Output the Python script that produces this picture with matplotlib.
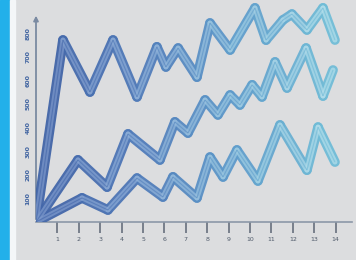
import numpy as np
import matplotlib
matplotlib.use("Agg")
import matplotlib.pyplot as plt
from matplotlib.collections import LineCollection
from matplotlib.colors import LinearSegmentedColormap
from matplotlib.patches import Rectangle

# ---- data ----
top_x = [0, 1.26, 2.52, 3.6, 4.72, 5.65, 6.07, 6.64, 7.52, 8.13, 9.07, 10.23, 10.75, 11.54, 11.96, 12.66, 13.41, 13.97]
top_y = [0, 771, 551, 771, 530, 742, 657, 737, 614, 843, 729, 907, 771, 856, 881, 814, 907, 771]

mid_x = [0, 1.96, 3.32, 4.3, 5.79, 6.49, 7.1, 7.9, 8.5, 9.07, 9.53, 10.1, 10.56, 11.17, 11.73, 12.62, 13.41, 13.88]
mid_y = [0, 263, 148, 373, 263, 424, 377, 517, 454, 538, 496, 581, 530, 678, 568, 737, 534, 644]

bot_x = [0, 2.15, 3.36, 4.72, 5.93, 6.4, 7.52, 8.13, 8.74, 9.39, 10.37, 11.4, 12.66, 13.18, 13.97]
bot_y = [0, 102, 51, 186, 106, 191, 102, 275, 191, 305, 174, 411, 220, 402, 254]

x_ticks = list(range(1, 15))
x_labels = [str(i) for i in x_ticks]
y_ticks = [100, 200, 300, 400, 500, 600, 700, 800]
y_labels = [str(v) for v in y_ticks]

W, H = 356, 260
fig = plt.figure(figsize=(W / 100, H / 100), dpi=100)
fig.patch.set_facecolor("#dcdddf")
# left decorative strips
fig.add_artist(Rectangle((0, 0), 10 / W, 1, transform=fig.transFigure, color="#22b0ea", zorder=0))
fig.add_artist(Rectangle((10 / W, 0), 5 / W, 1, transform=fig.transFigure, color="#f4f6f8", zorder=0))

ax = fig.add_axes([36 / W, (H - 222) / H, (352 - 36) / W, 222 / H])
ax.set_facecolor("none")
ax.set_xlim(0, (352 - 36) / 21.4)
ax.set_ylim(0, 222 / 0.236)
for s in ["top", "right", "left"]:
    ax.spines[s].set_visible(False)
ax.spines["bottom"].set_color("#8c98a8")
ax.spines["bottom"].set_linewidth(1.2)

# y axis with arrow
ax.annotate("", xy=(0, 886), xytext=(0, 0),
            arrowprops=dict(arrowstyle="-|>", color="#7a8aa2", lw=1.3, mutation_scale=7))

cmap_out = LinearSegmentedColormap.from_list("o", ["#4062a6", "#5079b8", "#5f9bcb", "#72bfd8"])
cmap_in = LinearSegmentedColormap.from_list("i", ["#7893c8", "#8eaed8", "#9ccae2", "#b4e0ec"])


def draw(xs, ys):
    xs = np.asarray(xs, float)
    ys = np.asarray(ys, float)
    pts = np.column_stack([xs, ys]).reshape(-1, 1, 2)
    segs = np.concatenate([pts[:-1], pts[1:]], axis=1)
    mids = (xs[:-1] + xs[1:]) / 2 / 14.0
    lc1 = LineCollection(segs, colors=cmap_out(mids), linewidths=7.0,
                         capstyle="round", joinstyle="miter", zorder=3, alpha=0.95)
    lc2 = LineCollection(segs, colors=cmap_in(mids), linewidths=3.6,
                         capstyle="round", joinstyle="miter", zorder=4, alpha=0.75)
    lc3 = LineCollection(segs, colors=cmap_out(mids), linewidths=0.8,
                         zorder=5, alpha=0.6)
    ax.add_collection(lc1)
    ax.add_collection(lc2)
    ax.add_collection(lc3)


draw(top_x, top_y)
draw(mid_x, mid_y)
draw(bot_x, bot_y)

ax.set_xticks(x_ticks)
ax.set_xticklabels(x_labels, fontsize=4.5, color="#4f5a6a")
ax.tick_params(axis="x", length=8, width=1.1, color="#5d6674", pad=3, direction="out")
ax.set_yticks(y_ticks)
ax.set_yticklabels(y_labels, fontsize=4.5, color="#3e62a0", rotation=90,
                   va="center", fontweight="bold")
ax.tick_params(axis="y", length=0, pad=4)

fig.savefig("out.png", dpi=100, facecolor=fig.get_facecolor())
